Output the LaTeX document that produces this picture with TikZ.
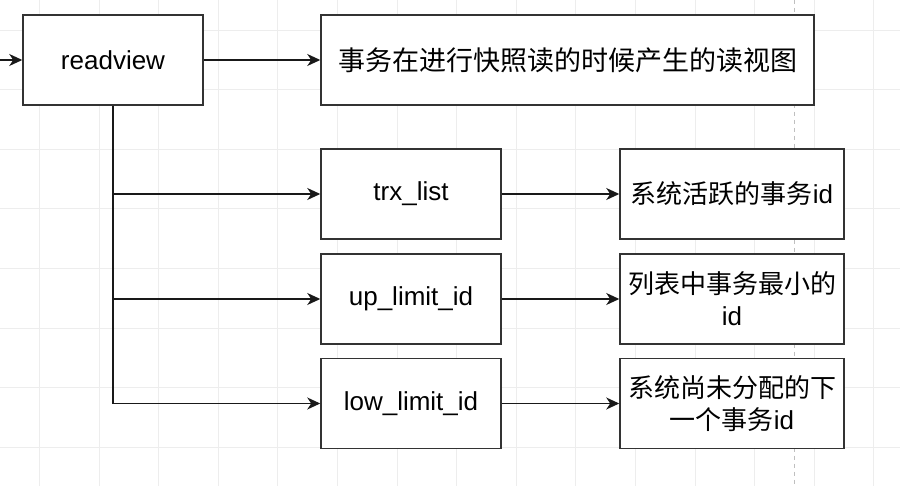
\documentclass[tikz,border=0pt]{standalone}
\usepackage{fontspec}
\setmainfont{Liberation Sans}
\newfontfamily\cjk{Noto Sans CJK SC}
\usetikzlibrary{arrows.meta}
\begin{document}
\begin{tikzpicture}[x=1pt,y=-1pt,
  gridline/.style={draw=black!7, line width=0.9pt},
  pageline/.style={draw=black!25, line width=1pt, dash pattern=on 4pt off 4pt},
  box/.style={draw=black!80, line width=1.5pt, fill=white, minimum height=90pt,
    inner sep=0pt, align=center, font=\fontsize{26}{32}\selectfont},
  conn/.style={draw=black!90, line width=1.3pt, -{Stealth[length=13pt,width=12pt,inset=4pt]}}]
\useasboundingbox (0,0) rectangle (900,486);
\fill[white] (0,0) rectangle (900,486);
% background grid
\foreach \k in {0,...,14} {\draw[gridline] ({39.5+59.6*\k},0) -- ({39.5+59.6*\k},486);}
\foreach \k in {0,...,7} {\draw[gridline] (0,{30+59.6*\k}) -- (900,{30+59.6*\k});}
\draw[pageline] (794,0) -- (794,486);
% nodes
\node[box, minimum width=180pt] (rv) at (113,60) {readview};
\node[box, minimum width=493pt, text width=493pt, font=\fontsize{27}{32}\selectfont] (top) at (567.5,60) {\cjk 事务在进行快照读的时候产生的读视图};
\node[box, minimum width=180pt] (trx) at (411,194) {trx\_list};
\node[box, minimum width=180pt] (up) at (411,299) {up\_limit\_id};
\node[box, minimum width=180pt] (low) at (411,403.5) {low\_limit\_id};
\node[box, minimum width=224pt] (d1) at (732,194) {{\cjk 系统活跃的事务}id};
\node[box, minimum width=224pt] (d2) at (732,299) {{\cjk 列表中事务最小的}\\id};
\node[box, minimum width=224pt] (d3) at (732,403.5) {{\cjk 系统尚未分配的下}\\{\cjk 一个事务}id};
\coordinate (in) at (0,60);
% connectors
\draw[conn] (in) -- (rv.west);
\draw[conn] (rv.east) -- (top.west);
\draw[conn] (rv.south) |- (trx.west);
\draw[conn] (rv.south) |- (up.west);
\draw[conn] (rv.south) |- (low.west);
\draw[conn] (trx.east) -- (d1.west);
\draw[conn] (up.east) -- (d2.west);
\draw[conn] (low.east) -- (d3.west);
\end{tikzpicture}
\end{document}
